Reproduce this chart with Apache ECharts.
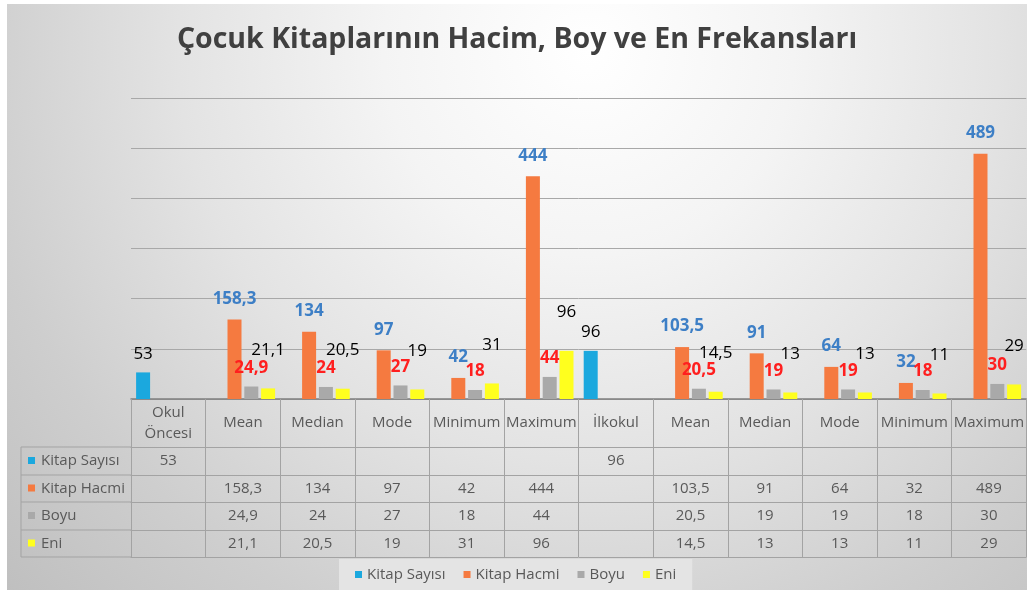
<!DOCTYPE html>
<html>
<head>
<meta charset="utf-8">
<script src="https://cdn.jsdelivr.net/npm/echarts@6/dist/echarts.min.js"></script>
<style>
html,body{margin:0;padding:0;background:#fff}
#main{width:1027px;height:590px}
</style>
</head>
<body>
<div id="main"></div>
<script>
// veriler
var categories = ['Okul\nÖncesi', 'Mean', 'Median', 'Mode', 'Minimum', 'Maximum', 'İlkokul', 'Mean', 'Median', 'Mode', 'Minimum', 'Maximum'];
var kitapSayisi = [53, null, null, null, null, null, 96, null, null, null, null, null];
var kitapHacmi = [null, 158.3, 134, 97, 42, 444, null, 103.5, 91, 64, 32, 489];
var boyu = [null, 24.9, 24, 27, 18, 44, null, 20.5, 19, 19, 18, 30];
var eni = [null, 21.1, 20.5, 19, 31, 96, null, 14.5, 13, 13, 11, 29];
var seriesNames = ['Kitap Sayısı', 'Kitap Hacmi', 'Boyu', 'Eni'];
var yMin = 0, yMax = 600, yStep = 100;

var FONT = 'Open Sans';
var seriesData = [kitapSayisi, kitapHacmi, boyu, eni];
var colors = ['#1ba8de', '#f57a40', '#a9a9a9', '#ffff1e'];
var labelColors = ['#000000', '#3d7fc6', '#ff1f1f', '#000000'];
var labelDist = [10, 12, 10, 30];
var labelBold = ['normal', 'bold', 'bold', 'normal'];

// tablo yerlesimi
var gridLeft = 131, gridTop = 98, gridW = 898, gridH = 301;
var baseY = gridTop + gridH;
var headH = 48;
var rowOffsets = [48, 76, 103, 131, 158];
var tableLeft = 21;
var lineCol = '#a3a3a3';
var tableFont = 15;

function comma(v) {
	return v == null ? '' : String(v).replace('.', ',');
}

var myChart = echarts.init(document.getElementById('main'));

var xAxes = [{
	type: 'category',
	data: categories,
	position: 'bottom',
	axisLine: { show: true, lineStyle: { color: '#7f7f7f', width: 1.5 } },
	axisTick: { show: true, alignWithLabel: false, interval: 0, length: headH, lineStyle: { color: lineCol } },
	axisLabel: {
		interval: 0, margin: headH / 2, verticalAlign: 'middle',
		color: '#595959', fontSize: tableFont, fontFamily: FONT, lineHeight: 21
	}
}];
seriesData.forEach(function (d, i) {
	var h = rowOffsets[i + 1] - rowOffsets[i];
	xAxes.push({
		type: 'category',
		data: d.map(comma),
		position: 'bottom',
		offset: rowOffsets[i],
		axisLine: { show: true, lineStyle: { color: lineCol } },
		axisTick: { show: true, alignWithLabel: false, interval: 0, length: h, lineStyle: { color: lineCol } },
		axisLabel: {
			interval: 0, margin: h / 2, verticalAlign: 'middle',
			color: '#595959', fontSize: tableFont, fontFamily: FONT
		}
	});
});
xAxes.push({
	type: 'category',
	data: categories,
	position: 'bottom',
	offset: rowOffsets[4],
	axisLine: { show: true, lineStyle: { color: lineCol } },
	axisTick: { show: false },
	axisLabel: { show: false }
});

var graphics = [{
	type: 'rect',
	z: -10,
	shape: { x: 7, y: 4, width: 1020, height: 586 },
	style: {
		fill: new echarts.graphic.RadialGradient(0.57, 0.08, 1.4, [
			{ offset: 0, color: '#ffffff' },
			{ offset: 0.25, color: '#f4f4f4' },
			{ offset: 0.5, color: '#e3e3e3' },
			{ offset: 0.75, color: '#cecece' },
			{ offset: 1, color: '#bdbdbd' }
		])
	}
}, {
	type: 'line', z: 10,
	shape: { x1: tableLeft, y1: baseY + rowOffsets[0], x2: tableLeft, y2: baseY + rowOffsets[4] },
	style: { stroke: lineCol, lineWidth: 1 }
}];
rowOffsets.forEach(function (o) {
	graphics.push({
		type: 'line', z: 10,
		shape: { x1: tableLeft, y1: baseY + o, x2: gridLeft, y2: baseY + o },
		style: { stroke: lineCol, lineWidth: 1 }
	});
});
seriesNames.forEach(function (n, i) {
	var cy = baseY + (rowOffsets[i] + rowOffsets[i + 1]) / 2;
	graphics.push({
		type: 'rect', z: 10,
		shape: { x: tableLeft + 7, y: cy - 4, width: 7, height: 7 },
		style: { fill: colors[i] }
	});
	graphics.push({
		type: 'text', z: 10,
		x: tableLeft + 20, y: cy,
		style: {
			text: n, fill: '#595959', font: tableFont + 'px "' + FONT + '"',
			verticalAlign: 'middle', align: 'left'
		}
	});
});

option = {
	backgroundColor: '#ffffff',
	animation: false,
	title: {
		text: 'Çocuk Kitaplarının Hacim, Boy ve En Frekansları',
		left: 512,
		textAlign: 'center',
		top: 20,
		textStyle: { color: '#404040', fontSize: 28.5, fontWeight: 'bold', fontFamily: FONT }
	},
	legend: {
		data: seriesNames,
		bottom: 0,
		left: 339,
		icon: 'rect',
		itemWidth: 7,
		itemHeight: 7,
		itemGap: 18,
		padding: [8, 16, 8, 16],
		backgroundColor: '#e4e4e4',
		textStyle: { color: '#595959', fontSize: 15, fontFamily: FONT }
	},
	grid: { left: gridLeft, top: gridTop, width: gridW, height: gridH },
	xAxis: xAxes,
	yAxis: {
		type: 'value',
		min: yMin, max: yMax, interval: yStep,
		axisLabel: { show: false },
		axisLine: { show: false },
		axisTick: { show: false },
		splitLine: { lineStyle: { color: '#a8a8a8' } }
	},
	graphic: graphics,
	series: seriesNames.map(function (n, i) {
		return {
			name: n,
			type: 'bar',
			xAxisIndex: 0,
			data: seriesData[i],
			barWidth: 14,
			barGap: '20%',
			itemStyle: { color: colors[i] },
			label: {
				show: true,
				position: 'top',
				distance: labelDist[i],
				color: labelColors[i],
				fontSize: 17,
				fontWeight: labelBold[i],
				fontFamily: FONT,
				formatter: function (p) { return comma(p.value); }
			}
		};
	})
};

myChart.setOption(option);
</script>
</body>
</html>
